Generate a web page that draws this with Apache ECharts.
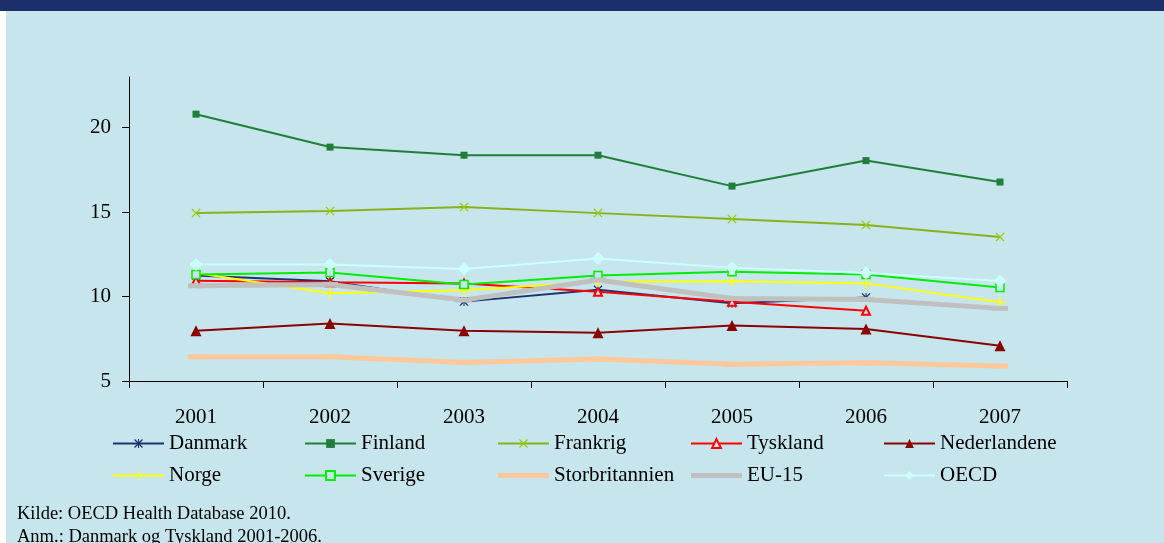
<!DOCTYPE html>
<html>
<head>
<meta charset="utf-8">
<script src="https://cdn.jsdelivr.net/npm/echarts@6/dist/echarts.min.js"></script>
<style>
  html, body { margin: 0; padding: 0; background: #ffffff; }
  #chart { width: 1164px; height: 543px; }
</style>
</head>
<body>
<div id="chart"></div>
<script>
const years = ['2001', '2002', '2003', '2004', '2005', '2006', '2007'];
const yTicks = [5, 10, 15, 20];

const danmark = [11.25, 10.9, 9.7, 10.4, 9.6, 9.95, null];
const finland = [20.8, 18.85, 18.37, 18.37, 16.54, 18.05, 16.78];
const frankrig = [14.94, 15.06, 15.3, 14.94, 14.59, 14.23, 13.52];
const tyskland = [10.93, 10.84, 10.78, 10.28, 9.69, 9.16, null];
const nederlandene = [7.98, 8.41, 7.98, 7.85, 8.29, 8.08, 7.09];
const norge = [11.4, 10.19, 10.38, 10.88, 10.9, 10.78, 9.66];
const sverige = [11.31, 11.43, 10.72, 11.25, 11.47, 11.31, 10.54];
const storbritannien = [6.44, 6.44, 6.1, 6.3, 5.99, 6.08, 5.89];
const eu15 = [10.64, 10.72, 9.79, 10.98, 9.89, 9.83, 9.3];
const oecd = [11.9, 11.9, 11.63, 12.26, 11.7, 11.4, 10.92];

const bg = '#c6e5ec';
const serif = '"Liberation Serif", "DejaVu Serif", serif';

// simple marker shapes (Excel style)
const symX = 'path://M0,1L1,0L5,4L9,0L10,1L6,5L10,9L9,10L5,6L1,10L0,9L4,5Z';
const symPlus = 'path://M4.3,0H5.7V4.3H10V5.7H5.7V10H4.3V5.7H0V4.3H4.3Z';
const symStar = 'path://M0,1L1,0L5,4L9,0L10,1L6,5L10,9L9,10L5,6L1,10L0,9L4,5Z M4.4,0H5.6V10H4.4Z';
const thickBar = 'path://M0,0H51V5H0Z';

const myChart = echarts.init(document.getElementById('chart'));

function line(name, data, color, symbol, size, width, extra) {
  return Object.assign({
    name: name,
    type: 'line',
    data: data,
    symbol: symbol,
    symbolSize: size,
    showAllSymbol: true,
    connectNulls: false,
    lineStyle: { color: color, width: width },
    itemStyle: { color: color },
    emphasis: { disabled: true },
    animation: false
  }, extra || {});
}

const legendCols = [
  { left: 112, data: ['Danmark', 'Norge'] },
  { left: 304, data: ['Finland', 'Sverige'] },
  { left: 497, data: ['Frankrig', { name: 'Storbritannien', icon: thickBar }] },
  { left: 690, data: ['Tyskland', { name: 'EU-15', icon: thickBar }] },
  { left: 883, data: ['Nederlandene', 'OECD'] }
];

let option = {
  backgroundColor: '#ffffff',
  textStyle: { fontFamily: serif },
  graphic: [
    { type: 'rect', z: -10, shape: { x: 6, y: 0, width: 1158, height: 543 }, style: { fill: bg } },
    { type: 'rect', z: -9, shape: { x: 0, y: 0, width: 1164, height: 11 }, style: { fill: '#1c2f6a' } },
    { type: 'text', left: 17, top: 505, style: { text: 'Kilde: OECD Health Database 2010.', font: '18.5px ' + serif, fill: '#000' } },
    { type: 'text', left: 17, top: 528, style: { text: 'Anm.: Danmark og Tyskland 2001-2006.', font: '18.5px ' + serif, fill: '#000' } }
  ],
  grid: { left: 129, right: 97, top: 77, bottom: 162 },
  legend: legendCols.map(c => ({
    orient: 'vertical',
    left: c.left,
    top: 433,
    padding: 0,
    itemWidth: 51,
    itemHeight: 11,
    itemGap: 11,
    selectedMode: false,
    textStyle: { fontFamily: serif, fontSize: 21, color: '#000', lineHeight: 21 },
    data: c.data
  })),
  xAxis: {
    type: 'category',
    data: years,
    boundaryGap: true,
    axisLine: { lineStyle: { color: '#000', width: 1 } },
    axisTick: { show: true, length: 7, alignWithLabel: false, lineStyle: { color: '#000' } },
    axisLabel: { fontFamily: serif, fontSize: 21, color: '#000', margin: 26, interval: 0 },
    splitLine: { show: false }
  },
  yAxis: {
    type: 'value',
    min: 5,
    max: 23,
    interval: 5,
    axisLine: { show: true, lineStyle: { color: '#000', width: 1 } },
    axisTick: { show: true, length: 7, customValues: yTicks, lineStyle: { color: '#000' } },
    axisLabel: { fontFamily: serif, fontSize: 21, color: '#000', margin: 18, customValues: yTicks },
    splitLine: { show: false }
  },
  series: [
    line('Danmark', danmark, '#1c3370', symStar, 9, 2),
    line('Finland', finland, '#1f7f3a', 'rect', 7, 2),
    line('Frankrig', frankrig, '#86b21c', symX, 9, 2, { itemStyle: { color: '#9ccc00' } }),
    line('Tyskland', tyskland, '#ff0000', 'triangle', 8, 2,
      { itemStyle: { color: bg, borderColor: '#ff0000', borderWidth: 2 } }),
    line('Nederlandene', nederlandene, '#8b0000', 'triangle', 11, 2),
    line('Norge', norge, '#ffff00', symPlus, 11, 2),
    line('Sverige', sverige, '#00ee00', 'rect', 8, 2,
      { itemStyle: { color: bg, borderColor: '#00ee00', borderWidth: 1.5 } }),
    line('Storbritannien', storbritannien, '#ffc89b', 'rect', [16, 5], 5),
    line('EU-15', eu15, '#c0c0c0', 'rect', [16, 5], 5),
    line('OECD', oecd, '#ccffff', 'diamond', 13, 2)
  ]
};

myChart.setOption(option);
</script>
</body>
</html>
